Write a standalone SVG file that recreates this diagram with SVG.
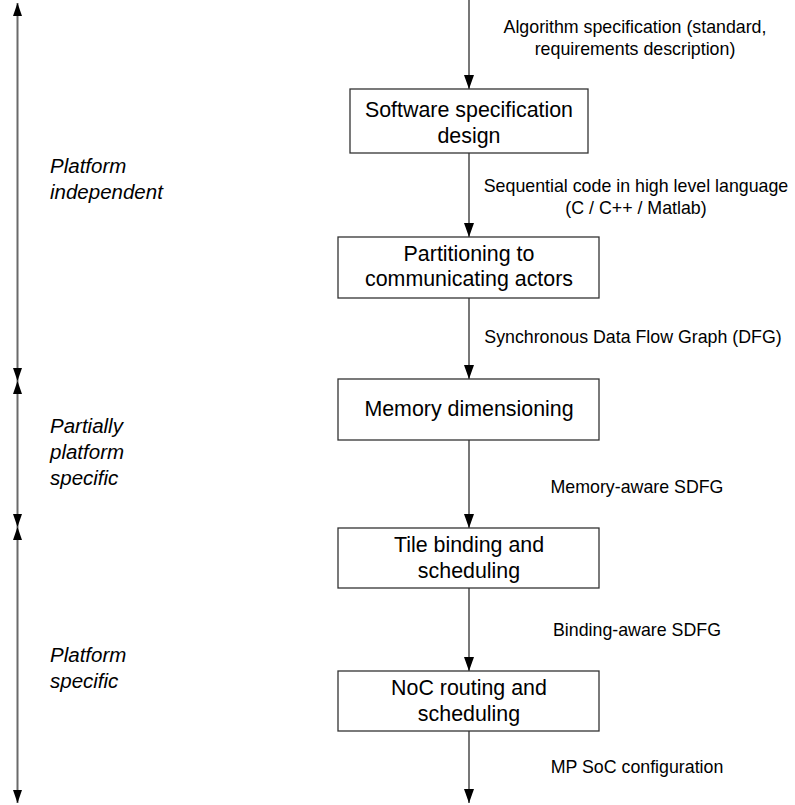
<svg xmlns="http://www.w3.org/2000/svg" width="795" height="805" viewBox="0 0 795 805">
  <style>
    .box { fill: #ffffff; stroke: #333333; stroke-width: 1.3; }
    .flow { fill: none; stroke: #555555; stroke-width: 1.6; }
    .span { fill: none; stroke: #6a6a6a; stroke-width: 2; }
    .node-text { font-family: "Liberation Sans", Arial, sans-serif; font-size: 21.4px; fill: #000000; text-anchor: middle; }
    .edge-text { font-family: "Liberation Sans", Arial, sans-serif; font-size: 17.8px; fill: #000000; text-anchor: middle; }
    .phase-text { font-family: "Liberation Sans", Arial, sans-serif; font-size: 20.5px; font-style: italic; fill: #000000; }
  </style>
  <defs>
    <marker id="arrow" markerUnits="userSpaceOnUse" markerWidth="14" markerHeight="10" refX="14" refY="5" orient="auto-start-reverse">
      <path d="M0,0 L14,5 L0,10 Z" fill="#000000"/>
    </marker>
    <marker id="arrow-small" markerUnits="userSpaceOnUse" markerWidth="13" markerHeight="9" refX="13" refY="4.5" orient="auto-start-reverse">
      <path d="M0,0 L13,4.5 L0,9 Z" fill="#000000"/>
    </marker>
  </defs>

  <rect width="795" height="805" fill="#ffffff"/>

  <!-- design-flow connectors -->
  <g id="connectors">
    <line class="flow" x1="469" y1="0" x2="469" y2="89" marker-end="url(#arrow)"/>
    <line class="flow" x1="469" y1="153" x2="469" y2="237" marker-end="url(#arrow)"/>
    <line class="flow" x1="469" y1="298" x2="469" y2="379" marker-end="url(#arrow)"/>
    <line class="flow" x1="469" y1="440" x2="469" y2="528" marker-end="url(#arrow)"/>
    <line class="flow" x1="469" y1="588" x2="469" y2="671" marker-end="url(#arrow)"/>
    <line class="flow" x1="469" y1="731" x2="469" y2="803" marker-end="url(#arrow)"/>

    <text class="edge-text" x="635" y="33">Algorithm specification (standard,</text>
    <text class="edge-text" x="635" y="55">requirements description)</text>
    <text class="edge-text" x="636" y="192">Sequential code in high level language</text>
    <text class="edge-text" x="636" y="214">(C / C++ / Matlab)</text>
    <text class="edge-text" x="633" y="343">Synchronous Data Flow Graph (DFG)</text>
    <text class="edge-text" x="637" y="493">Memory-aware SDFG</text>
    <text class="edge-text" x="637" y="636">Binding-aware SDFG</text>
    <text class="edge-text" x="637" y="773">MP SoC configuration</text>
  </g>

  <!-- platform-dependence ranges -->
  <g id="phases">
    <line class="span" x1="17.5" y1="3" x2="17.5" y2="381" marker-start="url(#arrow-small)" marker-end="url(#arrow-small)"/>
    <line class="span" x1="17.5" y1="381" x2="17.5" y2="527" marker-start="url(#arrow-small)" marker-end="url(#arrow-small)"/>
    <line class="span" x1="17.5" y1="527" x2="17.5" y2="803" marker-start="url(#arrow-small)" marker-end="url(#arrow-small)"/>

    <text class="phase-text" x="50" y="173">Platform</text>
    <text class="phase-text" x="50" y="199">independent</text>
    <text class="phase-text" x="50" y="433">Partially</text>
    <text class="phase-text" x="50" y="459">platform</text>
    <text class="phase-text" x="50" y="485">specific</text>
    <text class="phase-text" x="50" y="662">Platform</text>
    <text class="phase-text" x="50" y="688">specific</text>
  </g>

  <g id="software-spec">
    <rect class="box" x="350" y="89" width="238" height="64"/>
    <text class="node-text" x="469" y="117">Software specification</text>
    <text class="node-text" x="469" y="143">design</text>
  </g>

  <g id="partitioning">
    <rect class="box" x="338" y="237" width="261" height="61"/>
    <text class="node-text" x="469" y="261">Partitioning to</text>
    <text class="node-text" x="469" y="286">communicating actors</text>
  </g>

  <g id="memory-dimensioning">
    <rect class="box" x="338" y="379" width="261" height="61"/>
    <text class="node-text" x="469" y="416">Memory dimensioning</text>
  </g>

  <g id="tile-binding">
    <rect class="box" x="338" y="528" width="261" height="60"/>
    <text class="node-text" x="469" y="552">Tile binding and</text>
    <text class="node-text" x="469" y="578">scheduling</text>
  </g>

  <g id="noc-routing">
    <rect class="box" x="338" y="671" width="261" height="60"/>
    <text class="node-text" x="469" y="695">NoC routing and</text>
    <text class="node-text" x="469" y="721">scheduling</text>
  </g>
</svg>
